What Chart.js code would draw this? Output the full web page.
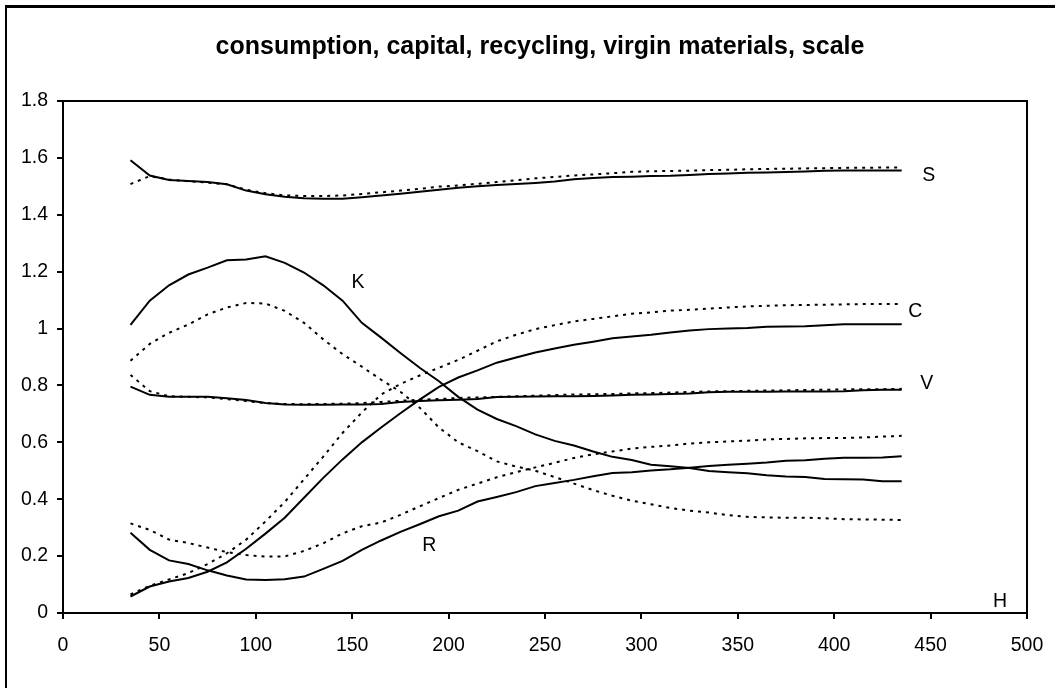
<!DOCTYPE html>
<html>
<head>
<meta charset="utf-8">
<script src="https://cdn.jsdelivr.net/npm/chart.js@4/dist/chart.umd.min.js"></script>
<style>
  html, body { margin: 0; padding: 0; background: #fff; }
  #wrap { width: 1060px; height: 688px; position: relative; }
</style>
</head>
<body>
<div id="wrap"><canvas id="c" width="1060" height="688"></canvas></div>
<script>
// Horizon H (x axis)
const hValues = [35,45,55,65,75,85,95,105,115,125,135,145,155,165,175,185,195,205,215,225,235,245,255,265,275,285,295,305,315,325,335,345,355,365,375,385,395,405,415,425,435];

// Scale S
const scaleSolid = [1.592,1.538,1.522,1.519,1.515,1.507,1.485,1.472,1.463,1.458,1.456,1.456,1.462,1.468,1.474,1.481,1.488,1.495,1.500,1.505,1.508,1.512,1.517,1.525,1.529,1.533,1.534,1.536,1.537,1.540,1.543,1.545,1.548,1.549,1.550,1.552,1.555,1.556,1.556,1.556,1.556];
const scaleDotted = [1.508,1.536,1.524,1.518,1.513,1.507,1.488,1.476,1.468,1.466,1.466,1.468,1.473,1.479,1.485,1.491,1.499,1.503,1.509,1.515,1.521,1.528,1.533,1.538,1.542,1.546,1.551,1.553,1.554,1.555,1.557,1.558,1.560,1.561,1.562,1.563,1.564,1.565,1.565,1.566,1.566];

// Capital K
const capitalSolid = [1.013,1.098,1.152,1.190,1.214,1.240,1.243,1.254,1.231,1.197,1.152,1.098,1.020,0.968,0.914,0.862,0.815,0.760,0.715,0.682,0.657,0.628,0.605,0.589,0.568,0.549,0.538,0.521,0.516,0.510,0.499,0.495,0.491,0.484,0.480,0.478,0.471,0.470,0.469,0.463,0.463];
const capitalDotted = [0.887,0.946,0.985,1.014,1.050,1.074,1.090,1.088,1.062,1.020,0.962,0.910,0.866,0.820,0.778,0.722,0.652,0.600,0.569,0.533,0.515,0.500,0.478,0.455,0.432,0.412,0.395,0.382,0.369,0.360,0.353,0.344,0.338,0.336,0.335,0.335,0.333,0.330,0.329,0.328,0.327];

// Consumption C
const consumptionSolid = [0.058,0.093,0.111,0.123,0.145,0.178,0.226,0.279,0.335,0.405,0.475,0.540,0.600,0.652,0.702,0.750,0.795,0.828,0.853,0.880,0.898,0.916,0.930,0.943,0.954,0.966,0.972,0.978,0.986,0.993,0.998,1.000,1.002,1.006,1.007,1.008,1.012,1.015,1.015,1.015,1.015];
const consumptionDotted = [0.065,0.096,0.118,0.140,0.172,0.210,0.258,0.322,0.390,0.470,0.550,0.633,0.705,0.768,0.805,0.835,0.862,0.890,0.922,0.955,0.978,0.998,1.012,1.025,1.034,1.043,1.052,1.057,1.063,1.066,1.070,1.074,1.078,1.080,1.082,1.083,1.084,1.085,1.086,1.086,1.086];

// Virgin materials V
const virginSolid = [0.796,0.767,0.760,0.760,0.760,0.755,0.749,0.738,0.733,0.732,0.732,0.733,0.733,0.735,0.742,0.745,0.748,0.750,0.752,0.759,0.760,0.761,0.762,0.762,0.763,0.765,0.767,0.768,0.770,0.772,0.776,0.778,0.778,0.778,0.779,0.779,0.779,0.780,0.783,0.785,0.785];
const virginDotted = [0.837,0.780,0.762,0.760,0.758,0.752,0.745,0.738,0.735,0.734,0.735,0.736,0.738,0.742,0.746,0.750,0.752,0.756,0.758,0.760,0.762,0.764,0.766,0.768,0.769,0.770,0.772,0.773,0.775,0.777,0.779,0.780,0.781,0.782,0.783,0.784,0.785,0.786,0.787,0.787,0.788];

// Recycling R
const recyclingSolid = [0.282,0.222,0.185,0.172,0.150,0.132,0.118,0.116,0.119,0.128,0.155,0.183,0.222,0.255,0.285,0.312,0.340,0.360,0.392,0.408,0.425,0.446,0.457,0.468,0.481,0.492,0.495,0.501,0.505,0.511,0.517,0.521,0.525,0.529,0.535,0.537,0.542,0.546,0.546,0.547,0.551];
const recyclingDotted = [0.315,0.292,0.258,0.246,0.230,0.214,0.204,0.198,0.199,0.218,0.245,0.280,0.305,0.318,0.345,0.375,0.404,0.433,0.455,0.477,0.495,0.512,0.528,0.545,0.558,0.568,0.578,0.584,0.589,0.596,0.600,0.603,0.606,0.610,0.612,0.614,0.615,0.615,0.617,0.620,0.623];

// Curve names written beside the lines, in data units
const curveNames = ['S', 'C', 'V', 'K', 'R', 'H'];
const curveNameH = [449, 442, 448, 153, 190, 486];
const curveNameY = [1.536, 1.058, 0.805, 1.160, 0.236, 0.039];

const chartTitle = 'consumption, capital, recycling, virgin materials, scale';

const FONT = '"Liberation Sans", Arial, Helvetica, sans-serif';

function series(values, dotted) {
  return {
    data: hValues.map((h, i) => ({ x: h, y: values[i] })),
    borderColor: '#000',
    borderWidth: 2,
    borderDash: dotted ? [3, 5] : [],
    pointRadius: 0,
    tension: 0,
    fill: false
  };
}

const framePlugin = {
  id: 'frame',
  afterDraw(chart) {
    const { ctx, chartArea: a } = chart;
    ctx.save();
    ctx.strokeStyle = '#000';
    // outer chart frame
    ctx.lineWidth = 3;
    ctx.beginPath();
    ctx.moveTo(5, 6.5); ctx.lineTo(1055, 6.5);
    ctx.stroke();
    ctx.lineWidth = 2;
    ctx.beginPath();
    ctx.moveTo(6, 5); ctx.lineTo(6, 688);
    ctx.stroke();
    // plot area top and right edges
    ctx.lineWidth = 2;
    ctx.beginPath();
    ctx.moveTo(a.left, a.top); ctx.lineTo(a.right, a.top); ctx.lineTo(a.right, a.bottom);
    ctx.stroke();
    // title
    ctx.fillStyle = '#000';
    ctx.font = 'bold 25px ' + FONT;
    ctx.textAlign = 'center';
    ctx.textBaseline = 'middle';
    ctx.fillText(chartTitle, 540, 47);
    // curve names
    const xs = chart.scales.x, ys = chart.scales.y;
    ctx.font = '19.5px ' + FONT;
    curveNames.forEach((n, i) => {
      ctx.fillText(n, xs.getPixelForValue(curveNameH[i]), ys.getPixelForValue(curveNameY[i]));
    });
    ctx.restore();
  }
};

new Chart(document.getElementById('c'), {
  type: 'line',
  data: {
    datasets: [
      series(scaleSolid, false), series(scaleDotted, true),
      series(capitalSolid, false), series(capitalDotted, true),
      series(consumptionSolid, false), series(consumptionDotted, true),
      series(virginSolid, false), series(virginDotted, true),
      series(recyclingSolid, false), series(recyclingDotted, true)
    ]
  },
  options: {
    responsive: false,
    animation: false,
    events: [],
    layout: { padding: { top: 101, right: 33, bottom: 0, left: 0 } },
    plugins: { legend: { display: false }, title: { display: false }, tooltip: { enabled: false } },
    scales: {
      x: {
        type: 'linear',
        min: 0, max: 500,
        border: { display: true, color: '#000', width: 2 },
        grid: { display: true, drawOnChartArea: false, drawTicks: true, tickLength: 6, color: '#000', lineWidth: 2 },
        ticks: { stepSize: 50, color: '#000', font: { family: FONT, size: 19.5 }, padding: 15, maxRotation: 0 },
        afterFit(s) { s.height = 75; }
      },
      y: {
        type: 'linear',
        min: 0, max: 1.8,
        border: { display: true, color: '#000', width: 2 },
        grid: { display: true, drawOnChartArea: false, drawTicks: true, tickLength: 6, color: '#000', lineWidth: 2 },
        ticks: { stepSize: 0.2, color: '#000', font: { family: FONT, size: 19.5 }, padding: 9,
                 callback: v => String(+Number(v).toFixed(1)) },
        afterFit(s) { s.width = 63; }
      }
    }
  },
  plugins: [framePlugin]
});
</script>
</body>
</html>
